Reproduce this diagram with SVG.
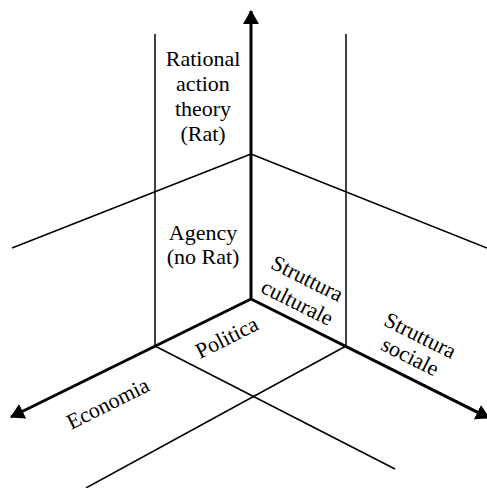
<svg xmlns="http://www.w3.org/2000/svg" width="487" height="488" viewBox="0 0 487 488">
<style>
.thin{stroke:#000;stroke-width:1.5;fill:none}
.axis{stroke:#000;stroke-width:3;fill:none}
.lbl{font-family:"Liberation Serif","DejaVu Serif",serif;font-size:22px;fill:#000;text-anchor:middle}
</style>
<defs>
<marker id="ah" viewBox="0 0 14 16" refX="13" refY="8" markerWidth="14" markerHeight="16" markerUnits="userSpaceOnUse" orient="auto">
<path d="M0,0 L14,8 L0,16 Z" fill="#000"/>
</marker>
</defs>
<g id="connectors">
<line class="thin" x1="155" y1="34" x2="155" y2="346"/>
<line class="thin" x1="346" y1="34" x2="346" y2="346"/>
<line class="thin" x1="251" y1="154" x2="12" y2="248"/>
<line class="thin" x1="251" y1="154" x2="487" y2="248"/>
<line class="thin" x1="155" y1="346" x2="395" y2="469"/>
<line class="thin" x1="346" y1="346" x2="86" y2="488"/>
<line class="axis" x1="251" y1="300" x2="251" y2="11" marker-end="url(#ah)"/>
<line class="axis" x1="251" y1="299" x2="11" y2="417" marker-end="url(#ah)"/>
<line class="axis" x1="251" y1="299" x2="489" y2="418" marker-end="url(#ah)"/>
</g>
<g id="rat">
<text class="lbl" x="203" y="66">Rational</text>
<text class="lbl" x="203" y="91">action</text>
<text class="lbl" x="203" y="116">theory</text>
<text class="lbl" x="203" y="141">(Rat)</text>
</g>
<g id="agency">
<text class="lbl" x="203" y="240">Agency</text>
<text class="lbl" x="203" y="264">(no Rat)</text>
</g>
<g id="cultura">
<text class="lbl" transform="translate(304,285) rotate(26.6)">Struttura</text>
<text class="lbl" transform="translate(294,309) rotate(26.6)">culturale</text>
</g>
<g id="sociale">
<text class="lbl" transform="translate(417,342) rotate(26.6)">Struttura</text>
<text class="lbl" transform="translate(407,363) rotate(26.6)">sociale</text>
</g>
<g id="politica">
<text class="lbl" transform="translate(230,344) rotate(-26.6)">Politica</text>
</g>
<g id="economia">
<text class="lbl" transform="translate(111,410) rotate(-26.6)">Economia</text>
</g>
</svg>
